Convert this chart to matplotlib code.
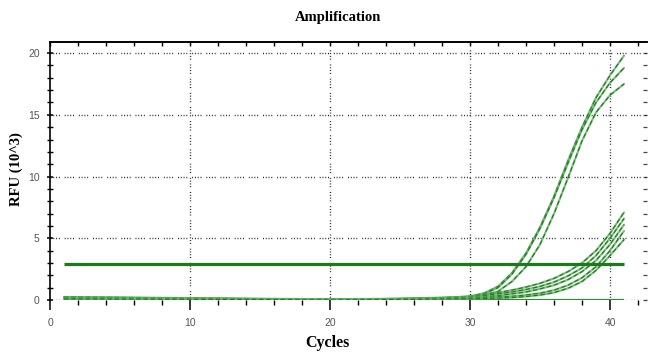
import matplotlib
matplotlib.use("Agg")
import matplotlib.pyplot as plt
from matplotlib.ticker import MultipleLocator

cycles = list(range(1, 42))

high_1 = [0.22, 0.21, 0.20, 0.19, 0.18, 0.17, 0.16, 0.15, 0.14, 0.13,
          0.12, 0.11, 0.10, 0.09, 0.08, 0.07, 0.06, 0.05, 0.05, 0.05,
          0.05, 0.06, 0.07, 0.08, 0.09, 0.11, 0.13, 0.16, 0.20,
          0.30, 0.55, 1.10, 2.20, 3.80, 5.90, 8.40, 11.3, 14.0, 16.4, 18.2, 19.8]
high_2 = [0.18, 0.18, 0.17, 0.17, 0.16, 0.15, 0.14, 0.13, 0.12, 0.11,
          0.10, 0.09, 0.08, 0.07, 0.06, 0.05, 0.04, 0.03, 0.03, 0.03,
          0.03, 0.04, 0.05, 0.06, 0.08, 0.10, 0.12, 0.15, 0.19,
          0.28, 0.50, 1.00, 2.10, 3.70, 5.80, 8.30, 11.1, 13.8, 16.0, 17.6, 18.8]
high_3 = [0.14, 0.14, 0.13, 0.13, 0.12, 0.12, 0.11, 0.10, 0.10, 0.09,
          0.08, 0.08, 0.07, 0.06, 0.05, 0.04, 0.03, 0.02, 0.02, 0.02,
          0.02, 0.03, 0.04, 0.05, 0.06, 0.08, 0.10, 0.13, 0.17,
          0.22, 0.40, 0.70, 1.50, 2.70, 4.50, 7.00, 9.90, 12.9, 15.2, 16.6, 17.5]
low_1 = [0.25, 0.24, 0.23, 0.22, 0.21, 0.20, 0.19, 0.18, 0.17, 0.16,
         0.15, 0.14, 0.13, 0.12, 0.11, 0.10, 0.09, 0.08, 0.07, 0.07,
         0.07, 0.08, 0.09, 0.10, 0.12, 0.14, 0.17, 0.20, 0.24,
         0.30, 0.45, 0.60, 0.80, 1.05, 1.35, 1.75, 2.30, 3.00, 4.00, 5.40, 7.10]
low_2 = [0.20, 0.20, 0.19, 0.18, 0.18, 0.17, 0.16, 0.15, 0.14, 0.13,
         0.12, 0.11, 0.10, 0.09, 0.08, 0.07, 0.06, 0.05, 0.05, 0.05,
         0.05, 0.06, 0.07, 0.08, 0.10, 0.12, 0.14, 0.17, 0.21,
         0.25, 0.35, 0.50, 0.65, 0.85, 1.10, 1.45, 1.95, 2.60, 3.60, 5.00, 6.60]
low_3 = [0.16, 0.16, 0.15, 0.15, 0.14, 0.14, 0.13, 0.12, 0.12, 0.11,
         0.10, 0.09, 0.08, 0.07, 0.06, 0.05, 0.04, 0.04, 0.03, 0.03,
         0.03, 0.04, 0.05, 0.06, 0.08, 0.10, 0.12, 0.15, 0.18,
         0.20, 0.25, 0.35, 0.50, 0.65, 0.90, 1.20, 1.65, 2.30, 3.20, 4.50, 6.10]
low_4 = [0.12, 0.12, 0.12, 0.11, 0.11, 0.10, 0.10, 0.09, 0.09, 0.08,
         0.08, 0.07, 0.06, 0.05, 0.05, 0.04, 0.03, 0.02, 0.02, 0.02,
         0.02, 0.03, 0.04, 0.05, 0.06, 0.08, 0.10, 0.12, 0.14,
         0.15, 0.20, 0.25, 0.30, 0.40, 0.55, 0.80, 1.20, 1.80, 2.70, 4.00, 5.60]
low_5 = [0.08, 0.08, 0.08, 0.08, 0.07, 0.07, 0.07, 0.06, 0.06, 0.06,
         0.05, 0.05, 0.04, 0.04, 0.03, 0.03, 0.02, 0.01, 0.01, 0.01,
         0.01, 0.02, 0.02, 0.03, 0.04, 0.05, 0.07, 0.08, 0.09,
         0.10, 0.12, 0.15, 0.20, 0.28, 0.40, 0.60, 0.95, 1.50, 2.40, 3.60, 4.90]

series = [high_1, high_2, high_3, low_1, low_2, low_3, low_4, low_5]
threshold = 2.9

x_ticks = [0, 10, 20, 30, 40]
y_ticks = [0, 5, 10, 15, 20]

W, H = 650, 352
fig = plt.figure(figsize=(W / 100, H / 100), dpi=100)
ax = fig.add_axes([50 / W, 1 - 300 / H, (647 - 50) / W, (300 - 42) / H])

grid_style = (0, (0.7, 1.3, 0.7, 1.3, 0.7, 1.3, 0.7, 3.5))
for xv in x_ticks[1:]:
    ax.axvline(xv, color='#222222', lw=1.0, ls=grid_style, zorder=1)
for yv in y_ticks:
    ax.axhline(yv, color='#222222', lw=1.0, ls=grid_style, zorder=1)

ax.hlines(0, cycles[0], cycles[-1], color='#2e8b2e', lw=1.6, zorder=2)
ax.hlines(threshold, cycles[0], cycles[-1], color='#1c7a1c', lw=2.3, zorder=4)

for s in series:
    ax.plot(cycles, s, color='#5cb85c', lw=1.5, alpha=0.85, zorder=3,
            solid_capstyle='round', solid_joinstyle='round')
    ax.plot(cycles, s, color='#2f6b2f', lw=0.8, ls=(0, (4, 2.5)), zorder=3)

ax.set_xlim(0, 42.64)
ax.set_ylim(0, 20.9)

ax.set_xticks(x_ticks)
ax.set_yticks(y_ticks)
ax.xaxis.set_minor_locator(MultipleLocator(2))
ax.yaxis.set_minor_locator(MultipleLocator(1))

for side in ['bottom', 'right']:
    ax.spines[side].set_visible(False)
for side in ['top', 'left']:
    ax.spines[side].set_linewidth(1.2)
    ax.spines[side].set_color('black')

ax.tick_params(axis='x', which='major', direction='out', length=7, width=1.1,
               pad=6, labelsize=7.5, labelcolor='#555555', top=False)
ax.tick_params(axis='x', which='minor', direction='out', length=3.5, width=1.0,
               top=False)
ax.tick_params(axis='y', which='major', direction='inout', length=5, width=1.1,
               pad=5, labelsize=7.5, labelcolor='#555555', right=False)
ax.tick_params(axis='y', which='minor', direction='inout', length=4, width=1.0,
               right=False)
for lab in ax.get_xticklabels() + ax.get_yticklabels():
    lab.set_fontfamily('Liberation Sans')

sec_x = ax.secondary_xaxis('top')
sec_x.set_xticks(x_ticks)
sec_x.xaxis.set_minor_locator(MultipleLocator(2))
sec_x.tick_params(which='both', direction='in', length=3, width=1.0, labeltop=False)
sec_x.spines['top'].set_linewidth(1.2)

sec_y = ax.secondary_yaxis('right')
sec_y.set_yticks(y_ticks)
sec_y.yaxis.set_minor_locator(MultipleLocator(1))
sec_y.tick_params(which='both', direction='in', length=3, width=0.9,
                  labelright=False, color='#444444')
sec_y.spines['right'].set_visible(False)

fig.text(338 / W, 1 - 17 / H, 'Amplification', ha='center', va='center',
         family='Liberation Serif', weight='bold', fontsize=10.5)
fig.text(327 / W, 1 - 343 / H, 'Cycles', ha='center', va='center',
         family='Liberation Serif', weight='bold', fontsize=11.5)
fig.text(16 / W, 1 - 169 / H, 'RFU (10^3)', ha='center', va='center',
         rotation=90, family='Liberation Serif', weight='bold', fontsize=10.5)

fig.savefig('out.png', dpi=100)
